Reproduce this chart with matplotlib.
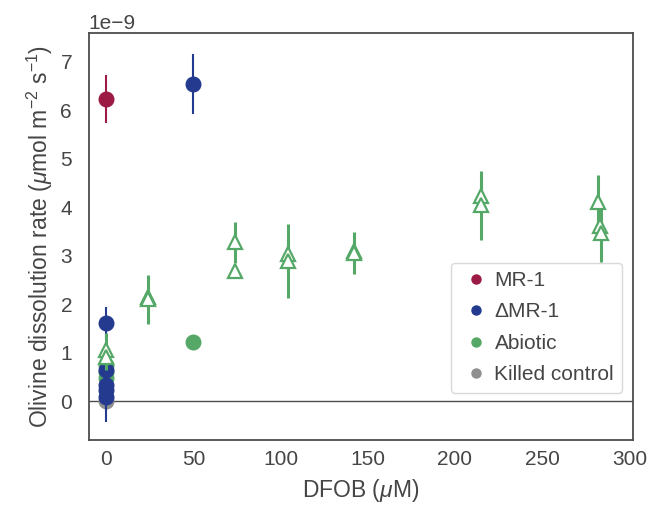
import matplotlib
matplotlib.use("Agg")
import matplotlib.pyplot as plt
import numpy as np

plt.rcParams['font.family'] = ['Liberation Sans', 'DejaVu Sans']
plt.rcParams['font.size'] = 15
plt.rcParams['text.color'] = '0.27'
plt.rcParams['axes.labelcolor'] = '0.27'
plt.rcParams['xtick.color'] = '0.27'
plt.rcParams['ytick.color'] = '0.27'
plt.rcParams['mathtext.fontset'] = 'custom'
plt.rcParams['mathtext.rm'] = 'Liberation Sans'
plt.rcParams['mathtext.it'] = 'Liberation Sans:italic'

SCALE = 1e-9

# bacterial cultures (circles)
mr1_dfob = [0]
mr1_rate = [6.23]
mr1_err = [0.50]

dmr1_dfob = [0, 0, 0, 0, 0, 50]
dmr1_rate = [1.62, 0.65, 0.33, 0.22, 0.08, 6.55]
dmr1_err = [0.33, 0.10, 0.10, 0.10, 0.52, 0.62]

abiotic_dfob = [0, 0, 0, 50]
abiotic_rate = [0.75, 0.60, 0.47, 1.22]
abiotic_err = [0.05, 0.05, 0.05, 0.05]

killed_dfob = [0]
killed_rate = [0.0]
killed_err = [0.02]

# abiotic DFOB series (open triangles)
tri_dfob = [0, 0, 24, 24, 74, 74, 104, 104, 142, 142, 215, 215, 282, 283, 284]
tri_rate = [1.05, 0.90, 2.15, 2.10, 3.28, 2.68, 3.03, 2.89, 3.09, 3.05, 4.24, 4.04, 4.11, 3.62, 3.46]
tri_err = [0.35, 0.25, 0.10, 0.50, 0.42, 0.10, 0.30, 0.77, 0.10, 0.43, 0.30, 0.71, 0.56, 0.30, 0.58]

RED = '#9b1b45'
BLUE = '#243a8f'
GREEN = '#55a868'
GREY = '#8f8f8f'


def sc(v):
    return np.asarray(v) * SCALE


fig = plt.figure(figsize=(6.62, 5.05), dpi=100)
ax = fig.add_axes([0.134, 0.129, 0.822, 0.806])

ax.axhline(0, color='0.3', lw=1, zorder=1)

ax.errorbar(killed_dfob, sc(killed_rate), yerr=sc(killed_err), fmt='o', ms=10.5,
            color=GREY, elinewidth=1.5, zorder=2)
ax.errorbar(abiotic_dfob, sc(abiotic_rate), yerr=sc(abiotic_err), fmt='o', ms=10.5,
            color=GREEN, elinewidth=2, zorder=3)
ax.errorbar(dmr1_dfob, sc(dmr1_rate), yerr=sc(dmr1_err), fmt='o', ms=10.5,
            color=BLUE, elinewidth=1.5, zorder=4)
ax.errorbar(mr1_dfob, sc(mr1_rate), yerr=sc(mr1_err), fmt='o', ms=10.5,
            color=RED, elinewidth=1.5, zorder=5)
ax.errorbar(tri_dfob, sc(tri_rate), yerr=sc(tri_err), fmt='^', ms=10,
            mfc='white', mec=GREEN, mew=1.6, color=GREEN, elinewidth=2.2, zorder=6)

handles = [
    plt.Line2D([], [], ls='', marker='o', ms=6.5, color=RED),
    plt.Line2D([], [], ls='', marker='o', ms=6.5, color=BLUE),
    plt.Line2D([], [], ls='', marker='o', ms=6.5, color=GREEN),
    plt.Line2D([], [], ls='', marker='o', ms=6.5, color=GREY),
]
ax.legend(handles, ['MR-1', '\u0394MR-1', 'Abiotic', 'Killed control'],
          loc='lower right', bbox_to_anchor=(1.0, 0.09), handletextpad=0.1,
          handlelength=1.6, borderpad=0.4, labelspacing=0.6,
          edgecolor='0.85', framealpha=1, fontsize=15)

ax.set_xlim(-10, 302)
ax.set_ylim(-0.8e-9, 7.6e-9)
ax.set_xticks([0, 50, 100, 150, 200, 250, 300])
ax.set_yticks(sc([0, 1, 2, 3, 4, 5, 6, 7]))
ax.tick_params(axis='x', length=0, pad=7)
ax.tick_params(axis='y', length=0, pad=12)
for s in ax.spines.values():
    s.set_color('0.3')
    s.set_linewidth(1.3)

ax.set_xlabel(r'DFOB ($\mu$M)', labelpad=6, fontsize=16.5)
ax.set_ylabel(r'Olivine dissolution rate ($\mu$mol m$^{-2}$ s$^{-1}$)',
              labelpad=4, fontsize=16.5)
ax.yaxis.get_offset_text().set_fontsize(15)

plt.savefig('out.png', dpi=100)
plt.close(fig)
